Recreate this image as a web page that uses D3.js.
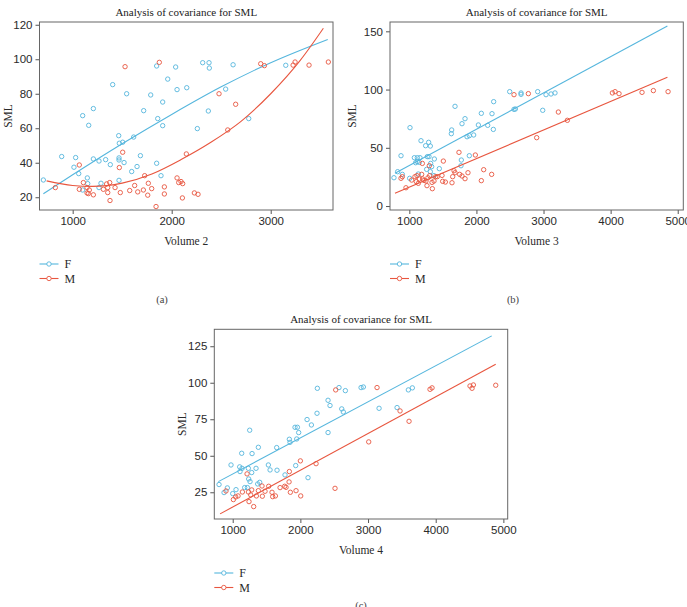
<!DOCTYPE html>
<html>
<head>
<meta charset="utf-8">
<script src="https://cdn.jsdelivr.net/npm/d3@7"></script>
<style>
	body { margin: 0; background: #fff; }
	svg { display: block; font-family: "Liberation Serif", "DejaVu Serif", serif; }
	.axis text { font-size: 11.5px; fill: #2a2a2a; }
	.axis line { stroke: #555; }
	.axis path { display: none; }
</style>
</head>
<body>
<script>
// ---- data: [volume, SML] ----
const groups = ["F", "M"];

const volume2F = [[704,30.0],[889,43.6],[1013,37.4],[1030,43.0],[1061,33.7],[1101,67.3],[1101,24.2],[1162,61.7],[1148,31.2],[1152,27.9],[1209,71.4],[1209,42.2],[1266,41.0],[1286,28.1],[1266,25.6],[1333,41.8],[1380,38.9],[1404,85.3],[1465,55.7],[1471,51.3],[1505,51.9],[1468,29.8],[1468,42.8],[1468,41.6],[1519,40.1],[1545,80.0],[1596,34.9],[1616,54.9],[1650,37.8],[1684,44.1],[1717,70.2],[1788,79.3],[1848,96.1],[1848,39.7],[1859,65.6],[1892,32.5],[1909,75.2],[1909,61.5],[1960,88.5],[2040,95.5],[2054,82.4],[2152,83.5],[2259,59.8],[2313,98.0],[2377,98.0],[2380,94.9],[2370,70.0],[2545,82.7],[2620,96.8],[2778,65.6],[3152,96.5]];
const volume2M = [[825,25.6],[1067,38.7],[1067,24.6],[1108,28.5],[1145,25.6],[1145,22.5],[1158,22.1],[1168,24.2],[1209,21.4],[1310,24.6],[1343,27.7],[1354,25.6],[1354,22.7],[1374,28.5],[1377,18.1],[1428,25.6],[1471,37.2],[1481,22.7],[1505,46.1],[1529,95.7],[1576,23.9],[1626,26.8],[1657,23.1],[1714,24.2],[1727,32.5],[1758,21.2],[1764,28.1],[1798,25.0],[1842,14.6],[1875,98.2],[1926,26.0],[1926,21.9],[2054,31.2],[2071,28.5],[2094,29.1],[2111,27.9],[2108,19.6],[2148,45.1],[2229,22.5],[2266,21.7],[2478,80.0],[2566,59.0],[2646,73.9],[2899,97.4],[2936,96.3],[3226,96.6],[3246,98.4],[3387,96.6],[3582,98.4]];
const fit2F = [[704,22],[1000,33],[1500,51],[2000,68],[2500,84],[3000,98],[3576,111.5]];
const fit2M = [[737,29.5],[1000,26.8],[1200,26.3],[1500,28.2],[1800,33.5],[2100,42],[2400,52],[2700,64],[3000,80],[3300,99.5],[3532,118]];

const volume3F = [[771,24.3],[826,29.5],[876,43.2],[896,27.2],[1010,67.3],[1005,23.8],[1075,41.5],[1094,37.2],[1119,41.5],[1119,38.1],[1149,37.5],[1159,41.5],[1174,56.1],[1134,27.5],[1243,51.8],[1268,42.4],[1258,31.5],[1288,54.7],[1313,51.5],[1293,42.4],[1318,36.6],[1313,29.5],[1333,33.8],[1373,40.4],[1368,26.1],[1447,32.1],[1626,62.1],[1631,65.3],[1681,85.6],[1770,34.6],[1775,39.5],[1785,70.7],[1830,75.0],[1860,59.5],[1894,60.4],[1894,43.2],[1959,61.0],[2029,69.6],[2073,79.6],[2168,69.3],[2232,79.3],[2257,89.6],[2252,65.8],[2496,98.2],[2560,83.0],[2580,83.3],[2665,97.1],[2665,95.9],[2913,98.2],[3037,95.6],[3112,96.2],[3171,97.1],[2988,82.2]];
const volume3M = [[876,23.8],[896,25.2],[950,15.7],[1035,22.3],[1084,25.2],[1114,26.1],[1104,20.9],[1149,23.2],[1134,19.5],[1194,36.6],[1184,27.2],[1199,23.2],[1219,22.0],[1248,21.5],[1278,24.3],[1263,17.5],[1298,34.6],[1303,26.1],[1343,14.9],[1338,20.3],[1368,21.5],[1393,25.2],[1417,25.2],[1487,26.3],[1507,38.6],[1497,21.2],[1537,20.6],[1636,20.0],[1646,25.2],[1666,30.3],[1681,28.6],[1740,46.1],[1750,27.2],[1785,25.8],[1830,23.5],[1874,28.6],[1984,43.8],[2073,21.8],[2108,31.2],[2227,27.2],[2560,95.6],[2774,96.5],[2898,58.7],[3221,80.7],[3355,73.6],[4026,97.1],[4066,98.2],[4125,96.5],[4468,97.6],[4637,99.1],[4856,98.2]];
const fit3F = [[786,28.1],[4846,154.6]];
const fit3M = [[786,10.9],[4846,110.5]];

const volume4F = [[798,30.3],[872,24.8],[921,28.0],[975,43.7],[1000,24.1],[1049,26.8],[1108,39.2],[1103,42.4],[1133,51.7],[1138,41.4],[1177,28.2],[1217,28.2],[1251,67.5],[1236,34.1],[1231,41.4],[1256,32.3],[1281,38.5],[1286,51.5],[1379,55.8],[1399,31.8],[1369,30.7],[1345,41.4],[1527,43.7],[1552,40.3],[1650,55.6],[1655,40.1],[1773,36.9],[1837,61.3],[1847,59.2],[1931,43.3],[1921,69.5],[1956,69.5],[1975,65.9],[1946,61.5],[2099,74.8],[2163,71.1],[2113,35.0],[2251,96.2],[2246,79.1],[2409,88.0],[2438,84.4],[2409,65.9],[2571,96.7],[2611,82.1],[2635,80.0],[2665,94.6],[2897,96.7],[2931,97.1],[3163,82.5],[3429,83.0],[3596,95.1],[3655,96.5]];
const volume4M = [[901,25.9],[1010,20.0],[1044,21.8],[1079,22.5],[1143,25.2],[1212,37.6],[1232,25.2],[1266,23.2],[1241,18.6],[1310,15.2],[1281,26.6],[1350,22.5],[1379,26.1],[1433,29.3],[1438,22.3],[1478,25.7],[1532,29.1],[1581,25.0],[1591,22.0],[1631,22.5],[1700,28.2],[1768,29.1],[1833,32.1],[1837,39.2],[1852,25.0],[1788,28.4],[1936,26.1],[2000,46.5],[2005,22.5],[2232,44.6],[2512,27.7],[2522,95.1],[3133,96.7],[3473,80.7],[3606,73.6],[3010,59.5],[3916,95.5],[3946,96.5],[4507,97.8],[4537,96.2],[4557,98.5],[4887,98.3]];
const fit4F = [[788,32.3],[4828,132.1]];
const fit4M = [[813,10.2],[4887,112.7]];

const ticksX2 = [1000, 2000, 3000];
const ticksY2 = [20, 40, 60, 80, 100, 120];
const ticksX3 = [1000, 2000, 3000, 4000, 5000];
const ticksY3 = [0, 50, 100, 150];
const ticksX4 = [1000, 2000, 3000, 4000, 5000];
const ticksY4 = [25, 50, 75, 100, 125];

const colors = { F: "#55b6dd", M: "#e8563f" };

const svg = d3.select("body").append("svg")
	.attr("width", 687)
	.attr("height", 607);

function panel(opt) {
	let x = d3.scaleLinear().domain(opt.xDomain).range([opt.left, opt.right]);
	let y = d3.scaleLinear().domain(opt.yDomain).range([opt.bottom, opt.top]);
	let g = svg.append("g");

	g.append("g")
		.attr("class", "axis x")
		.attr("transform", `translate(0, ${opt.bottom})`)
		.call(d3.axisBottom(x).tickValues(opt.xTicks).tickSize(4).tickPadding(3).tickFormat(d3.format("d")));

	g.append("g")
		.attr("class", "axis y")
		.attr("transform", `translate(${opt.left}, 0)`)
		.call(d3.axisLeft(y).tickValues(opt.yTicks).tickSize(4).tickPadding(3).tickFormat(d3.format("d")));

	g.append("rect")
		.attr("x", opt.left).attr("y", opt.top)
		.attr("width", opt.right - opt.left).attr("height", opt.bottom - opt.top)
		.attr("fill", "none").attr("stroke", "#666").attr("stroke-width", 1);

	let line = d3.line()
		.x(d => x(d[0]))
		.y(d => y(d[1]))
		.curve(d3.curveMonotoneX);

	groups.forEach(k => {
		g.append("path")
			.datum(opt.fit[k])
			.attr("d", line)
			.attr("fill", "none")
			.attr("stroke", colors[k])
			.attr("stroke-width", 1.1);

		g.append("g").selectAll("circle")
			.data(opt.points[k])
			.join("circle")
				.attr("cx", d => x(d[0]))
				.attr("cy", d => y(d[1]))
				.attr("r", 2.2)
				.attr("fill", "none")
				.attr("stroke", colors[k])
				.attr("stroke-width", 0.9);
	});

	let mid = (opt.left + opt.right) / 2;

	g.append("text")
		.attr("x", mid).attr("y", opt.top - 10)
		.attr("dy", "0.35em")
		.attr("text-anchor", "middle")
		.attr("font-size", 11)
		.attr("fill", "#222")
		.text("Analysis of covariance for SML");

	g.append("text")
		.attr("x", mid).attr("y", opt.bottom + 31)
		.attr("dy", "0.35em")
		.attr("text-anchor", "middle")
		.attr("font-size", 11.5)
		.attr("fill", "#2a2a2a")
		.text(opt.xLabel);

	g.append("text")
		.attr("transform", `translate(${opt.left - opt.yLabelGap}, ${(opt.top + opt.bottom) / 2}) rotate(-90)`)
		.attr("dy", "0.35em")
		.attr("text-anchor", "middle")
		.attr("font-size", 11.5)
		.attr("fill", "#2a2a2a")
		.text("SML");

	// legend
	groups.forEach((k, i) => {
		let ly = opt.bottom + 54 + i * 14.5;
		let lg = g.append("g").attr("transform", `translate(${opt.left}, ${ly})`);
		lg.append("line")
			.attr("x1", 0).attr("x2", 19)
			.attr("stroke", colors[k]).attr("stroke-width", 1.1);
		lg.append("circle")
			.attr("cx", 9.5).attr("r", 2.2)
			.attr("fill", "#fff").attr("stroke", colors[k]).attr("stroke-width", 0.9);
		lg.append("text")
			.attr("x", 25).attr("dy", "0.35em")
			.attr("font-size", 12)
			.attr("fill", "#2a2a2a")
			.text(k);
	});

	g.append("text")
		.attr("x", opt.capX).attr("y", opt.capY)
		.attr("dy", "0.35em")
		.attr("text-anchor", "middle")
		.attr("font-size", 10.5)
		.attr("fill", "#444")
		.text(opt.caption);
}

panel({
	left: 39.5, right: 333, top: 22, bottom: 210,
	xDomain: [665, 3629], yDomain: [12.6, 121.6],
	xTicks: ticksX2, yTicks: ticksY2,
	points: { F: volume2F, M: volume2M },
	fit: { F: fit2F, M: fit2M },
	xLabel: "Volume 2", yLabelGap: 32,
	caption: "(a)", capX: 162, capY: 299
});

panel({
	left: 390, right: 683.3, top: 22, bottom: 210,
	xDomain: [712, 5083], yDomain: [-3.4, 158],
	xTicks: ticksX3, yTicks: ticksY3,
	points: { F: volume3F, M: volume3M },
	fit: { F: fit3F, M: fit3M },
	xLabel: "Volume 3", yLabelGap: 38,
	caption: "(b)", capX: 513, capY: 299
});

panel({
	left: 214.3, right: 507.7, top: 329.3, bottom: 519,
	xDomain: [728, 5064], yDomain: [6.7, 136.6],
	xTicks: ticksX4, yTicks: ticksY4,
	points: { F: volume4F, M: volume4M },
	fit: { F: fit4F, M: fit4M },
	xLabel: "Volume 4", yLabelGap: 32,
	caption: "(c)", capX: 361, capY: 605
});
</script>
</body>
</html>
